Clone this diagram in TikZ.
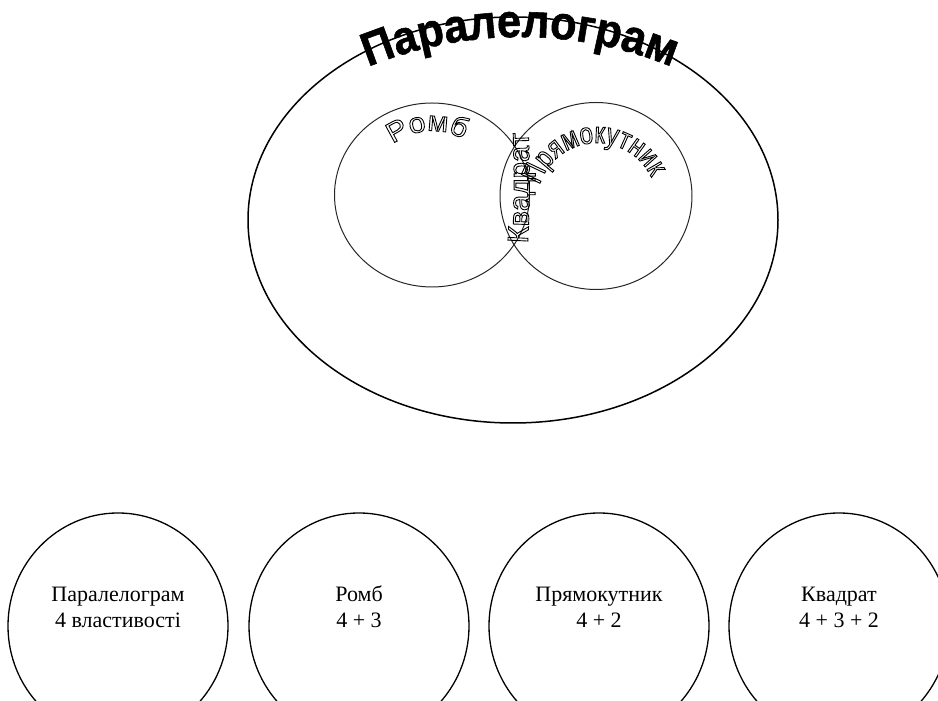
\documentclass[tikz,border=0pt]{standalone}
\usepackage{fontspec}
\setmainfont{Liberation Serif}
\newfontfamily\wafont{Liberation Sans}
\newfontfamily\wawide[FakeStretch=1.08]{Liberation Sans}
\newfontfamily\wanarrow[FakeStretch=0.8]{Liberation Sans}
\newfontfamily\waheavy[FakeBold=1.2,FakeStretch=0.92]{Liberation Sans Bold}
\usetikzlibrary{decorations.text,shapes.geometric}
\newcommand\hollowon{\special{pdf:literal direct 1 Tr 0.9 w}}
\tikzset{
  bigoval/.style={ellipse,draw,line width=1.5pt,inner sep=0pt},
  ring/.style={ellipse,draw=black!85,line width=1pt,inner sep=0pt},
  cell/.style={ellipse,draw,line width=1.3pt,minimum width=220pt,minimum height=226pt,inner sep=0pt},
  celltext/.style={align=center,font=\fontsize{22}{26}\selectfont},
}
\begin{document}
\begin{tikzpicture}[x=1pt,y=1pt]
\useasboundingbox (0,0) rectangle (938,701);
% big ellipse and circles
\node[bigoval,minimum width=530pt,minimum height=406pt] (para) at (513,481) {};
\node[ring,minimum width=195pt,minimum height=184pt] (romb) at (432,506) {};
\node[ring,minimum width=192pt,minimum height=187pt] (rect) at (596,505) {};
% bottom ovals
\node[cell] (c1) at (118,75) {};
\node[cell] (c2) at (359,75) {};
\node[cell] (c3) at (599,75) {};
\node[cell] (c4) at (839,75) {};
% big curved title
\path[decorate,decoration={text along path,
  text={|\waheavy\fontsize{47}{47}\selectfont|Паралелограм},text align=center}]
  (520,264) ++(116:400pt) arc[start angle=116,end angle=64,radius=400pt];
% bottom labels
\node[celltext] (t1) at (118,94) {Паралелограм\\4 властивості};
\node[celltext] (t2) at (359,94) {Ромб\\4 + 3};
\node[celltext] (t3) at (599,94) {Прямокутник\\4 + 2};
\node[celltext] (t4) at (839,94) {Квадрат\\4 + 3 + 2};
% hollow curved labels (drawn last)
\path[decorate,decoration={text along path,
  text={|\wawide\fontsize{28}{28}\selectfont\hollowon|Ромб},text align=center}]
  (432,506) ++(136:64pt) arc[start angle=136,end angle=52,radius=64pt];
\path[decorate,decoration={text along path,
  text={|\wanarrow\fontsize{30}{30}\selectfont\hollowon|Прямокутник},text align=center}]
  (597,498) ++(166:60pt) arc[start angle=166,end angle=22,radius=60pt];
\path[decorate,decoration={text along path,
  text={|\wafont\fontsize{29}{29}\selectfont\hollowon|Квадрат},text align=center}]
  (527,446) .. controls (530,490) and (530,535) .. (528,580);
\end{tikzpicture}
\end{document}
